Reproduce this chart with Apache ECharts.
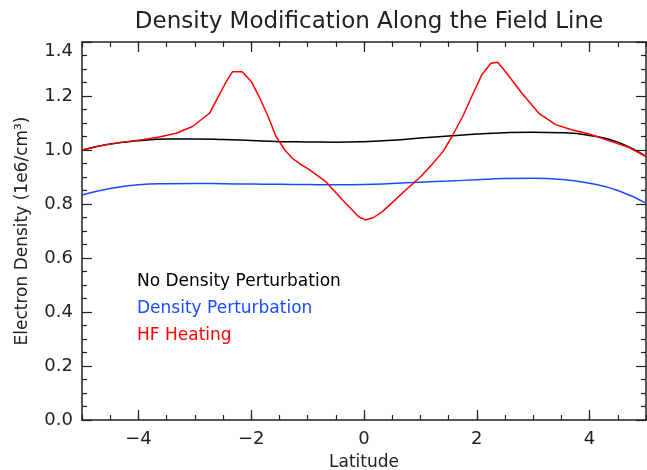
<!DOCTYPE html>
<html>
<head>
<meta charset="utf-8">
<script src="https://cdn.jsdelivr.net/npm/echarts@6/dist/echarts.min.js"></script>
<style>html,body{margin:0;padding:0;background:#fff}#main{width:647px;height:470px}</style>
</head>
<body>
<div id="main"></div>
<script>
// latitude samples for the smooth curves
var lat = [-5, -4.5, -4, -3.5, -3, -2.5, -2, -1.5, -1, -0.5, 0, 0.5, 1, 1.5, 2, 2.5, 3, 3.5, 4, 4.5, 5];
var noPert = [1.0, 1.022, 1.034, 1.041, 1.041, 1.039, 1.035, 1.031, 1.03, 1.029, 1.031, 1.036, 1.044, 1.052, 1.059, 1.064, 1.066, 1.064, 1.054, 1.029, 0.976];
var pert = [0.833, 0.857, 0.871, 0.875, 0.876, 0.875, 0.874, 0.873, 0.872, 0.871, 0.872, 0.876, 0.881, 0.885, 0.89, 0.894, 0.895, 0.891, 0.877, 0.85, 0.803];

// HF heating curve, sampled more densely (kinks at peaks)
var hfLat = [-5, -4.6, -4.2, -3.9, -3.63, -3.33, -3.04, -2.74, -2.44, -2.33, -2.16, -2.0, -1.86, -1.7, -1.56, -1.4, -1.27, -1.1, -0.97, -0.68, -0.38, -0.09, 0.03, 0.17, 0.32, 0.5, 0.74, 1.0, 1.2, 1.4, 1.56, 1.75, 1.91, 2.09, 2.25, 2.37, 2.51, 2.8, 3.1, 3.4, 3.68, 3.98, 4.39, 4.7, 5];
var hfVal = [1.0, 1.019, 1.031, 1.039, 1.048, 1.062, 1.087, 1.136, 1.254, 1.29, 1.29, 1.254, 1.198, 1.124, 1.05, 0.999, 0.969, 0.944, 0.927, 0.883, 0.815, 0.752, 0.741, 0.75, 0.771, 0.805, 0.852, 0.9, 0.945, 0.994, 1.05, 1.124, 1.198, 1.279, 1.321, 1.325, 1.29, 1.21, 1.136, 1.094, 1.075, 1.06, 1.031, 1.009, 0.976];

var xMajor = [-4, -2, 0, 2, 4];
var legendNames = ['No Density Perturbation', 'Density Perturbation', 'HF Heating'];
var colors = ['#000000', '#1a4cff', '#ff0000'];

function pairs(xs, ys) { return xs.map(function (x, i) { return [x, ys[i]]; }); }

var font = 'DejaVu Sans';
var axCol = '#222';
var chart = echarts.init(document.getElementById('main'));

function xAx(pos, major, labels) {
  return {
    type: 'value', min: -5, max: 5, position: pos,
    interval: major ? undefined : 0.5,
    axisLine: { show: major, onZero: false, lineStyle: { color: axCol, width: 1.5 } },
    axisTick: major ? { inside: true, length: 10, customValues: xMajor, lineStyle: { color: axCol, width: 1.2 } }
                    : { inside: true, length: 5, lineStyle: { color: axCol, width: 1.2 } },
    axisLabel: labels ? { show: true, customValues: xMajor, margin: 10, color: '#222', fontFamily: font, fontSize: 18,
      formatter: function (v) { return v < 0 ? '\u2212' + Math.abs(v) : '' + v; } } : { show: false },
    splitLine: { show: false },
    name: labels ? 'Latitude' : '', nameLocation: 'middle', nameGap: 34,
    nameTextStyle: { color: '#222', fontFamily: font, fontSize: 17 }
  };
}

function yAx(pos, labels) {
  return {
    type: 'value', min: 0, max: 1.4, interval: 0.2, position: pos,
    axisLine: { show: true, onZero: false, lineStyle: { color: axCol, width: 1.5 } },
    axisTick: { inside: true, length: 10, lineStyle: { color: axCol, width: 1.2 } },
    minorTick: { show: true, splitNumber: 4, length: 5, lineStyle: { color: axCol, width: 1.2 } },
    axisLabel: labels ? { show: true, margin: 9, color: '#222', fontFamily: font, fontSize: 18,
      verticalAlignMaxLabel: 'top',
      formatter: function (v) { return v.toFixed(1); } } : { show: false },
    splitLine: { show: false },
    name: labels ? 'Electron Density (1e6/cm\u00b3)' : '', nameLocation: 'middle', nameGap: 51,
    nameTextStyle: { color: '#222', fontFamily: font, fontSize: 17 }
  };
}

var option = {
  backgroundColor: '#fff',
  animation: false,
  title: {
    text: 'Density Modification Along the Field Line', left: 364, top: 6, textAlign: 'center',
    textStyle: { fontFamily: font, fontWeight: 'normal', fontSize: 23, color: '#222' }
  },
  grid: { left: 82, right: 1, top: 42, bottom: 50, containLabel: false, outerBoundsMode: 'none' },
  xAxis: [xAx('bottom', true, true), xAx('bottom', false, false), xAx('top', true, false), xAx('top', false, false)],
  yAxis: [yAx('left', true), yAx('right', false)],
  series: [
    { name: legendNames[0], type: 'line', smooth: true, symbol: 'none', data: pairs(lat, noPert), lineStyle: { color: colors[0], width: 1.5 } },
    { name: legendNames[1], type: 'line', smooth: true, symbol: 'none', data: pairs(lat, pert), lineStyle: { color: colors[1], width: 1.5 } },
    { name: legendNames[2], type: 'line', symbol: 'none', data: pairs(hfLat, hfVal), lineStyle: { color: colors[2], width: 1.5 } }
  ],
  graphic: legendNames.map(function (n, i) {
    return { type: 'text', left: 137, top: 273 + i * 27, style: { text: n, fill: colors[i], font: '17px "DejaVu Sans"' } };
  })
};
chart.setOption(option);
</script>
</body>
</html>
